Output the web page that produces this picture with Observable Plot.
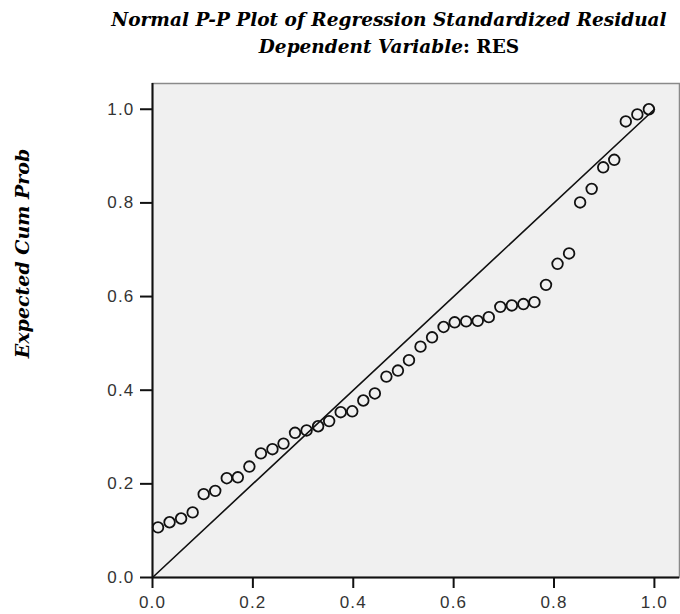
<!DOCTYPE html>
<html>
<head>
<meta charset="utf-8">
<script src="https://cdn.jsdelivr.net/npm/d3@7"></script>
<script src="https://cdn.jsdelivr.net/npm/@observablehq/plot@0.6"></script>
<style>
  body { margin: 0; background: #fff; width: 680px; height: 614px; overflow: hidden; }
  #title { position: relative; height: 70px; font-family: "DejaVu Serif", serif; color: #000; }
  .t { position: absolute; left: 0; width: 778px; text-align: center; white-space: nowrap;
       font-style: italic; font-weight: bold; font-size: 18.5px; line-height: 20px; }
  .up { font-style: normal; }
  g[aria-label="x-axis tick label"] text, g[aria-label="y-axis tick label"] text { letter-spacing: 1.2px; }
</style>
</head>
<body>
<div id="title">
  <div class="t" style="top:10px">Normal P-P Plot of Regression Standardized Residual</div>
  <div class="t" style="top:37px">Dependent Variable<span class="up">: RES</span></div>
</div>
<div id="chart"></div>
<script>
// Observed cumulative probability (x) and expected cumulative probability (y)
const observedCumProb = [
  0.011, 0.034, 0.057, 0.080, 0.102, 0.125, 0.148, 0.170, 0.193, 0.216, 0.239,
  0.261, 0.284, 0.307, 0.330, 0.352, 0.375, 0.398, 0.420, 0.443, 0.466, 0.489,
  0.511, 0.534, 0.557, 0.580, 0.602, 0.625, 0.648, 0.670, 0.693, 0.716, 0.739,
  0.761, 0.784, 0.807, 0.830, 0.852, 0.875, 0.898, 0.920, 0.943, 0.966, 0.989
];
const expectedCumProb = [
  0.107, 0.118, 0.126, 0.139, 0.178, 0.185, 0.212, 0.214, 0.237, 0.265, 0.274,
  0.286, 0.309, 0.314, 0.323, 0.334, 0.353, 0.355, 0.378, 0.393, 0.429, 0.442,
  0.464, 0.493, 0.513, 0.535, 0.545, 0.547, 0.548, 0.556, 0.578, 0.581, 0.584,
  0.588, 0.625, 0.670, 0.692, 0.801, 0.830, 0.876, 0.892, 0.974, 0.989, 1.000
];
const tickValues = [0, 0.2, 0.4, 0.6, 0.8, 1.0];
const refLine = [0, 1];
const yLabel = "Expected Cum Prob";

const points = observedCumProb.map((x, i) => ({x, y: expectedCumProb[i]}));

const plot = Plot.plot({
  width: 680,
  height: 544,
  marginLeft: 152,
  marginRight: 1,
  marginTop: 13,
  marginBottom: 37,
  style: { fontFamily: "'Liberation Sans', Arial, sans-serif", fontSize: "17px", color: "#333", background: "transparent" },
  x: { domain: [0, 1.05], ticks: tickValues, tickFormat: d3.format(".1f") },
  y: { domain: [0, 1.055], ticks: tickValues, tickFormat: d3.format(".1f") },
  marks: [
    Plot.frame({ fill: "#f0f0f0", stroke: "#8a8a8a", strokeWidth: 1.5 }),
    Plot.line(refLine.map(v => ({x: v, y: v})), { x: "x", y: "y", stroke: "#111", strokeWidth: 1.6 }),
    Plot.dot(points, { x: "x", y: "y", r: 5.3, stroke: "#111", strokeWidth: 1.8, fill: "none" }),
    Plot.ruleX([0], { stroke: "#111", strokeWidth: 2 }),
    Plot.ruleY([0], { stroke: "#111", strokeWidth: 2 }),
    Plot.axisX(tickValues, { tickSize: 11, tickPadding: 7, tickFormat: d3.format(".1f"), stroke: "#111", strokeWidth: 2, label: null, fill: "#333" }),
    Plot.axisY(tickValues, { tickSize: 12, tickPadding: 6, tickFormat: d3.format(".1f"), stroke: "#111", strokeWidth: 2, label: null, fill: "#333" }),
    Plot.text([yLabel], { frameAnchor: "left", textAnchor: "middle", rotate: -90, dx: -130, dy: -77, text: d => d,
      fontFamily: "'DejaVu Serif', serif", fontStyle: "italic", fontWeight: "bold", fontSize: 19, fill: "#000" })
  ]
});
document.getElementById("chart").appendChild(plot);
</script>
</body>
</html>
